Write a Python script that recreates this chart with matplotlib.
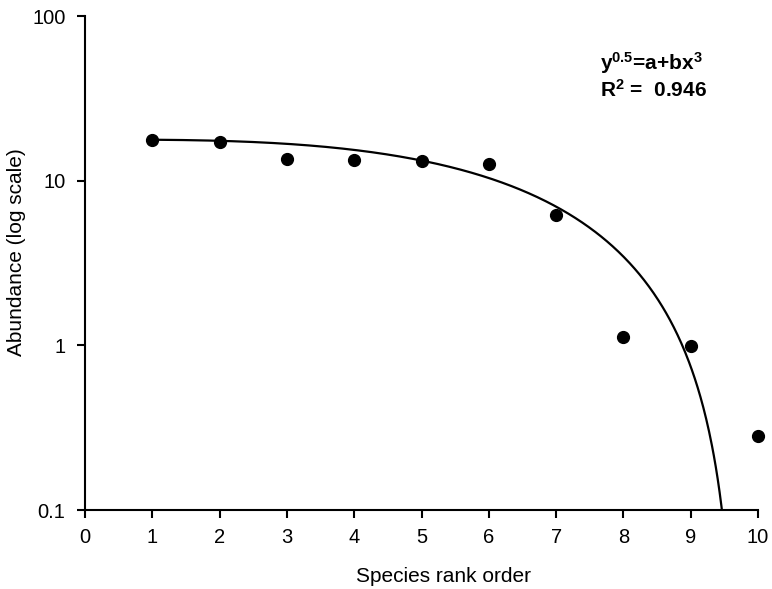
import numpy as np
import matplotlib
matplotlib.use("Agg")
import matplotlib.pyplot as plt
from matplotlib.ticker import FixedLocator, FixedFormatter, NullLocator

plt.rcParams['font.family'] = ['Liberation Sans', 'DejaVu Sans']
plt.rcParams['mathtext.fontset'] = 'custom'
plt.rcParams['mathtext.rm'] = 'Liberation Sans:bold'
plt.rcParams['mathtext.it'] = 'Liberation Sans:bold'
plt.rcParams['mathtext.bf'] = 'Liberation Sans:bold'

# Data
rank = [1, 2, 3, 4, 5, 6, 7, 8, 9, 10]
abundance = [17.7, 17.1, 13.5, 13.3, 13.1, 12.7, 6.2, 1.13, 0.99, 0.283]

# Fitted model: y^0.5 = a + b x^3
fit_a = 4.215
fit_b = -0.0046
fit_x_start = 1.0
fit_x_end = 9.5

x_ticks = [0, 1, 2, 3, 4, 5, 6, 7, 8, 9, 10]
y_ticks = [0.1, 1, 10, 100]
y_tick_labels = ['0.1', '1', '10', '100']

fig = plt.figure(figsize=(7.72, 5.89), dpi=100)
ax = fig.add_axes([85/772, 1 - 510/589, (758 - 85)/772, (510 - 16)/589])

xf = np.linspace(fit_x_start, fit_x_end, 600)
sq = fit_a + fit_b * xf**3
yf = np.where(sq > 0, sq, np.nan)**2
ax.plot(xf, yf, color='black', lw=1.6, zorder=2)

ax.plot(rank, abundance, 'o', color='black', markersize=8.5, zorder=3, clip_on=False)

ax.set_yscale('log')
ax.set_xlim(0, 10)
ax.set_ylim(0.1, 100)
ax.xaxis.set_major_locator(FixedLocator(x_ticks))
ax.yaxis.set_major_locator(FixedLocator(y_ticks))
ax.yaxis.set_major_formatter(FixedFormatter(y_tick_labels))
ax.yaxis.set_minor_locator(NullLocator())

for s in ['top', 'right']:
    ax.spines[s].set_visible(False)
for s in ['left', 'bottom']:
    ax.spines[s].set_linewidth(1.5)

ax.tick_params(axis='both', which='major', direction='out', length=6, width=1.5,
               labelsize=14.5)
ax.tick_params(axis='y', pad=8)
ax.tick_params(axis='x', pad=7)

ax.set_xlabel('Species rank order', fontsize=15)
ax.xaxis.set_label_coords((444 - 85)/673, (510 - 576)/494)
ax.xaxis.label.set_va('center')
ax.set_ylabel('Abundance (log scale)', fontsize=15)
ax.yaxis.set_label_coords((17 - 85)/673, (510 - 252)/494)
ax.yaxis.label.set_va('center')

fig.text(600/772, 1 - 63/589, r'y$^{0.5}$=a+bx$^{3}$', fontsize=15, fontweight='bold',
         ha='left', va='center')
fig.text(600/772, 1 - 90/589, r'R$^{2}$ =  0.946', fontsize=15, fontweight='bold',
         ha='left', va='center')

fig.savefig('out.png', dpi=100)
